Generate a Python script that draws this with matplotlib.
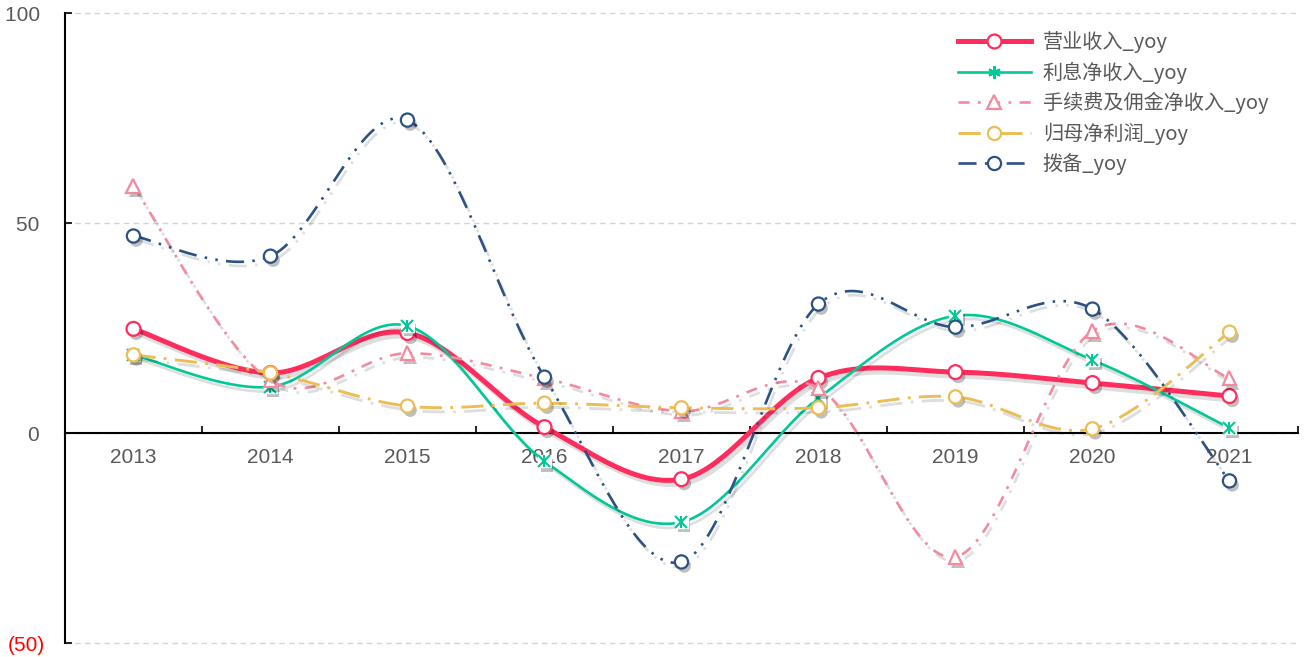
import numpy as np
import matplotlib
matplotlib.use("Agg")
import matplotlib.pyplot as plt
import matplotlib.patheffects as pe
from matplotlib.lines import Line2D

plt.rcParams['font.family'] = ['Liberation Sans', 'Noto Sans CJK SC', 'DejaVu Sans']
plt.rcParams['lines.scale_dashes'] = False

# 年份与各项同比增速（%）
years = ['2013', '2014', '2015', '2016', '2017', '2018', '2019', '2020', '2021']
yingye = [24.8, 14.3, 23.8, 1.4, -11.0, 13.1, 14.5, 11.9, 8.8]
lixi = [18.6, 11.0, 25.5, -6.7, -21.2, 8.3, 27.9, 17.4, 1.2]
shouxufei = [58.8, 12.5, 19.0, 13.0, 5.2, 10.7, -29.5, 24.3, 13.0]
guimu = [18.6, 14.3, 6.4, 7.1, 6.0, 6.0, 8.6, 1.0, 24.0]
bobei = [46.9, 42.1, 74.5, 13.3, -30.7, 30.7, 25.2, 29.5, -11.4]

series_names = ['营业收入_yoy', '利息净收入_yoy', '手续费及佣金净收入_yoy', '归母净利润_yoy', '拨备_yoy']
yticks = [-50, 0, 50, 100]
# 会计格式：正数末尾留一个空位，与负数括号对齐
ytick_labels = ['(50)', '0 ', '50 ', '100 ']


def smooth(x, y, n=40):
    """Excel 风格的平滑曲线（三次贝塞尔，控制点取相邻点差的 1/6）"""
    pts = np.column_stack([x, y]).astype(float)
    out = []
    for i in range(len(pts) - 1):
        p0 = pts[max(i - 1, 0)]
        p1 = pts[i]
        p2 = pts[i + 1]
        p3 = pts[min(i + 2, len(pts) - 1)]
        c1 = p1 + (p2 - p0) / 6
        c2 = p2 - (p3 - p1) / 6
        t = np.linspace(0, 1, n)[:, None]
        seg = (1 - t) ** 3 * p1 + 3 * (1 - t) ** 2 * t * c1 + 3 * (1 - t) * t ** 2 * c2 + t ** 3 * p2
        out.append(seg if i == 0 else seg[1:])
    seg = np.vstack(out)
    return seg[:, 0], seg[:, 1]


fig = plt.figure(figsize=(13.04, 6.57), dpi=100)
ax = fig.add_axes([0.0498, 0.0213, 0.9456, 0.9589])

x = np.arange(len(years))
line_shadow = [pe.SimpleLineShadow(offset=(2, -3), shadow_color='#000000', alpha=0.13), pe.Normal()]
marker_shadow = [pe.SimplePatchShadow(offset=(2, -3), shadow_rgbFace='#000000', alpha=0.25), pe.Normal()]

styles = [
    dict(data=yingye, color='#FF2D5E', lw=3.6, ls='-', marker='o', ms=10),
    dict(data=lixi, color='#00C896', lw=1.9, ls='-', marker='star', ms=9),
    dict(data=shouxufei, color='#F4899F', lw=1.9, ls=(0, (8, 6, 2, 6)), marker='^', ms=10),
    dict(data=guimu, color='#EBBE55', lw=2.1, ls=(0, (16, 6, 2, 6)), marker='o', ms=9.5),
    dict(data=bobei, color='#2B5283', lw=1.9, ls=(0, (13, 6, 1.8, 6, 1.8, 6)), marker='o', ms=9.5),
]

handles = []
for k, st in enumerate(styles):
    sx, sy = smooth(x, st['data'])
    z = 3 + k
    ax.plot(sx, sy, color=st['color'], lw=st['lw'], ls=st['ls'], zorder=z,
            path_effects=line_shadow, solid_capstyle='round')
    if st['marker'] == 'star':
        # 星号标记：白底方块 + 叉 + 竖线
        ax.plot(x, st['data'], ls='none', marker='s', ms=st['ms'], mfc='white', mec='white',
                zorder=z + 0.5, path_effects=marker_shadow)
        ax.plot(x, st['data'], ls='none', marker='x', ms=st['ms'] * 0.9, mec=st['color'], mew=1.5, zorder=z + 0.6)
        ax.plot(x, st['data'], ls='none', marker='|', ms=st['ms'] * 1.0, mec=st['color'], mew=1.5, zorder=z + 0.6)
        h = Line2D([], [], color=st['color'], lw=st['lw'], ls=st['ls'], marker=(6, 2, 0),
                   ms=st['ms'], mec=st['color'], mew=1.5)
    else:
        ax.plot(x, st['data'], ls='none', marker=st['marker'], ms=st['ms'], mfc='white',
                mec=st['color'], mew=1.6, zorder=z + 0.5, path_effects=marker_shadow)
        h = Line2D([], [], color=st['color'], lw=st['lw'], ls=st['ls'], marker=st['marker'],
                   ms=st['ms'], mfc='white', mec=st['color'], mew=1.6)
    handles.append(h)

# 坐标轴
ax.set_xlim(-0.5, len(years) - 0.5)
ax.set_ylim(-50, 100)
ax.set_yticks(yticks)
ax.set_yticklabels(ytick_labels)
for lbl in ax.get_yticklabels():
    lbl.set_color('#FF0000' if lbl.get_text().startswith('(') else '#595959')
ax.yaxis.grid(True, color='#D4D4D4', ls=(0, (4, 3)), lw=1.0)
for gl in ax.get_ygridlines():
    gl.set_clip_on(False)
ax.set_axisbelow(True)

ax.set_xticks(x)
ax.set_xticklabels(years)
ax.set_xticks(np.arange(len(years) + 1) - 0.5, minor=True)
ax.tick_params(axis='x', which='major', length=0, pad=11, labelsize=15, labelcolor='#595959')
ax.tick_params(axis='x', which='minor', direction='in', length=5, width=1.2, color='black')
ax.tick_params(axis='y', direction='in', length=5, width=1.2, pad=14, labelsize=15)

ax.spines['top'].set_visible(False)
ax.spines['right'].set_visible(False)
ax.spines['bottom'].set_position(('data', 0))
ax.spines['bottom'].set_linewidth(1.5)
ax.spines['left'].set_linewidth(1.5)
ax.spines['bottom'].set_zorder(2.5)

leg = fig.legend(handles, series_names, loc='upper left', bbox_to_anchor=(940 / 1304, 1 - 13 / 657),
                 frameon=False, numpoints=1, handlelength=3.6, handletextpad=0.6, labelspacing=0.42,
                 prop={'family': ['Noto Sans CJK SC', 'DejaVu Sans'], 'size': 14.5})
for t in leg.get_texts():
    t.set_color('#595959')

fig.savefig('out.png', dpi=100, facecolor='white')
